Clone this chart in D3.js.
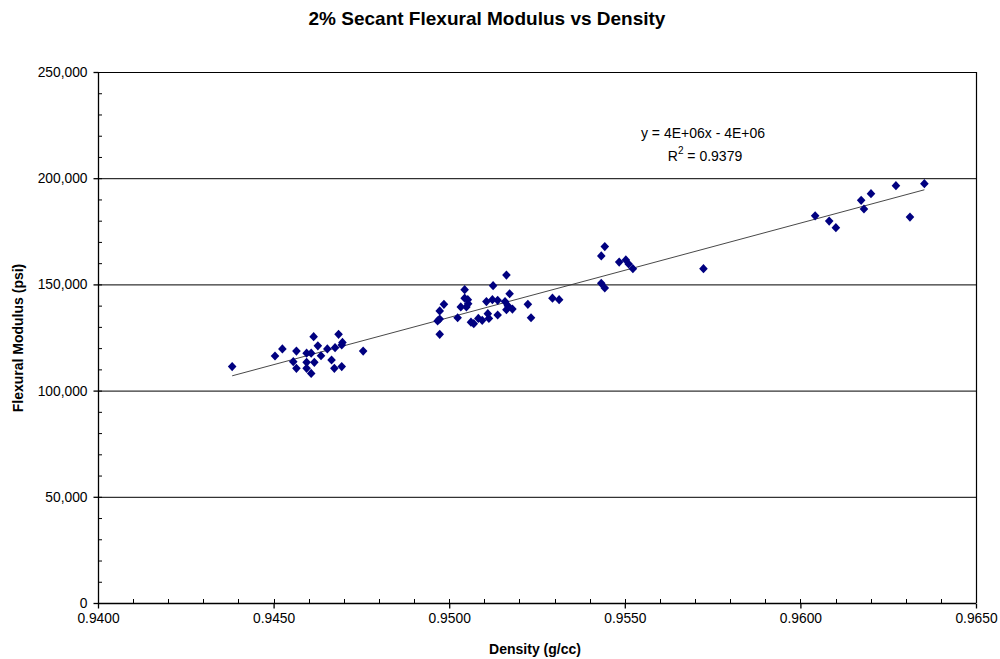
<!DOCTYPE html>
<html><head><meta charset="utf-8">
<script src="https://cdn.jsdelivr.net/npm/d3@7"></script>
<style>body{margin:0;background:#fff;} svg{font-family:"Liberation Sans",Arial,sans-serif;}</style>
</head><body>
<svg id="chart" width="1000" height="659"></svg>
<script>
const density = [0.94382,0.94504,0.94525,0.94565,0.94556,0.94565,0.94594,0.94607,0.94614,0.94626,0.94635,0.94594,0.94616,0.94594,0.94607,0.94653,0.94675,0.94685,0.94696,0.94694,0.94665,0.94673,0.94694,0.94755,
0.94973,0.94967,0.94973,0.94973,0.94985,0.95024,0.95033,0.95044,0.95044,0.95053,0.95049,0.95054,0.95062,0.95070,0.95083,0.95094,0.95106,0.95110,0.95113,0.95125,0.95123,0.95138,0.95138,
0.95163,0.95172,0.95159,0.95167,0.95180,0.95163,0.95224,0.95233,0.95294,0.95313,
0.95443,0.95433,0.95484,0.95503,0.95511,0.95523,0.95433,0.95443,0.95724,
0.96042,0.96082,0.96101,0.96173,0.96201,0.96181,0.96272,0.96312,0.96353];
const modulus = [111300,116300,119600,118600,113600,110500,117600,117600,125400,121100,116400,113300,113300,110500,108100,119600,120200,126500,122700,121500,114400,110500,111300,118600,
126500,132800,133700,137500,140600,134300,139400,147500,143500,142800,139400,140900,132200,131500,134000,133100,141900,136200,134000,149400,142800,142500,135600,
154400,145600,141900,140000,138400,138100,140600,134300,143500,142800,
167800,163400,160500,161500,159600,157400,150500,148300,157400,
182300,179800,176700,189600,192700,185500,196500,181700,197400];
const xTicks = [0.94,0.945,0.95,0.955,0.96,0.965];
const yTicks = [0,50000,100000,150000,200000,250000];
const trendText = ["y = 4E+06x - 4E+06", "R² = 0.9379"];

const svg = d3.select("#chart");
const m = {l:98, r:976, t:72, b:603};
const x = d3.scaleLinear().domain([0.94,0.965]).range([m.l,m.r]);
const y = d3.scaleLinear().domain([0,250000]).range([m.b,m.t]);

// gridlines
svg.append("g").selectAll("line").data(yTicks.filter(v=>v>0 && v<250000)).join("line")
  .attr("x1",m.l).attr("x2",m.r).attr("y1",d=>y(d)+0.5).attr("y2",d=>y(d)+0.5)
  .attr("stroke","#000").attr("stroke-width",1);
// frame top & right
svg.append("line").attr("x1",m.l).attr("x2",m.r).attr("y1",m.t+0.5).attr("y2",m.t+0.5).attr("stroke","#000").attr("stroke-width",1.2);
svg.append("line").attr("x1",m.r+0.5).attr("x2",m.r+0.5).attr("y1",m.t).attr("y2",m.b).attr("stroke","#000").attr("stroke-width",1.2);

// minor ticks
const yMinor = d3.range(0,250001,10000);
svg.append("g").selectAll("line").data(yMinor).join("line")
  .attr("x1",m.l).attr("x2",m.l+4).attr("y1",d=>y(d)+0.5).attr("y2",d=>y(d)+0.5).attr("stroke","#000");
const xMinor = d3.range(0,26).map(i=>0.94+i*0.001);
svg.append("g").selectAll("line").data(xMinor).join("line")
  .attr("x1",d=>Math.round(x(d))+0.5).attr("x2",d=>Math.round(x(d))+0.5).attr("y1",m.b-4).attr("y2",m.b).attr("stroke","#000");

// axes
const yAxis = d3.axisLeft(y).tickValues(yTicks).tickSize(5).tickPadding(6).tickFormat(d3.format(","));
const gy = svg.append("g").attr("transform",`translate(${m.l+0.5},0)`).call(yAxis);
const xAxis = d3.axisBottom(x).tickValues(xTicks).tickSize(5).tickPadding(5).tickFormat(d3.format(".4f"));
const gx = svg.append("g").attr("transform",`translate(0,${m.b+0.5})`).call(xAxis);
[gy,gx].forEach(g=>{g.selectAll("path,line").attr("stroke","#000").attr("stroke-width",1.3);
  g.selectAll("text").attr("font-size",13.8).attr("fill","#000").attr("font-family","Liberation Sans, Arial, sans-serif");});
gy.select(".domain").attr("d",`M0,${m.t}V${m.b}`);
gx.select(".domain").attr("d",`M${m.l},0H${m.r}`);

// trendline (least squares)
const n = density.length;
const mx = d3.mean(density), my = d3.mean(modulus);
let sxy=0,sxx=0; for(let i=0;i<n;i++){sxy+=(density[i]-mx)*(modulus[i]-my); sxx+=(density[i]-mx)**2;}
const slope = sxy/sxx, icpt = my - slope*mx;
const [x0,x1] = d3.extent(density);
svg.append("line").attr("x1",x(x0)).attr("x2",x(x1)).attr("y1",y(slope*x0+icpt)).attr("y2",y(slope*x1+icpt))
  .attr("stroke","#333").attr("stroke-width",0.9);

// points (diamond markers)
const diamond = "M0,-4.6L4.3,0L0,4.6L-4.3,0Z";
svg.append("g").selectAll("path").data(density.map((d,i)=>[d,modulus[i]])).join("path")
  .attr("d",diamond).attr("transform",d=>`translate(${x(d[0])},${y(d[1])})`).attr("fill","#000080");

// trend label
svg.append("text").attr("x",703).attr("y",138).attr("text-anchor","middle").attr("font-size",14).text(trendText[0]);
const r2 = svg.append("text").attr("x",705).attr("y",161).attr("text-anchor","middle").attr("font-size",14);
r2.append("tspan").text("R");
r2.append("tspan").attr("dy",-7).attr("font-size",10).text("2");
r2.append("tspan").attr("dy",7).text(" = 0.9379");

// titles
svg.append("text").attr("x",487).attr("y",25).attr("text-anchor","middle").attr("font-weight","bold").attr("font-size",19).text("2% Secant Flexural Modulus vs Density");
svg.append("text").attr("x",535).attr("y",654).attr("text-anchor","middle").attr("font-weight","bold").attr("font-size",14).text("Density (g/cc)");
svg.append("text").attr("transform","translate(23,338) rotate(-90)").attr("text-anchor","middle").attr("font-weight","bold").attr("font-size",14).text("Flexural Modulus (psi)");
</script>
</body></html>
